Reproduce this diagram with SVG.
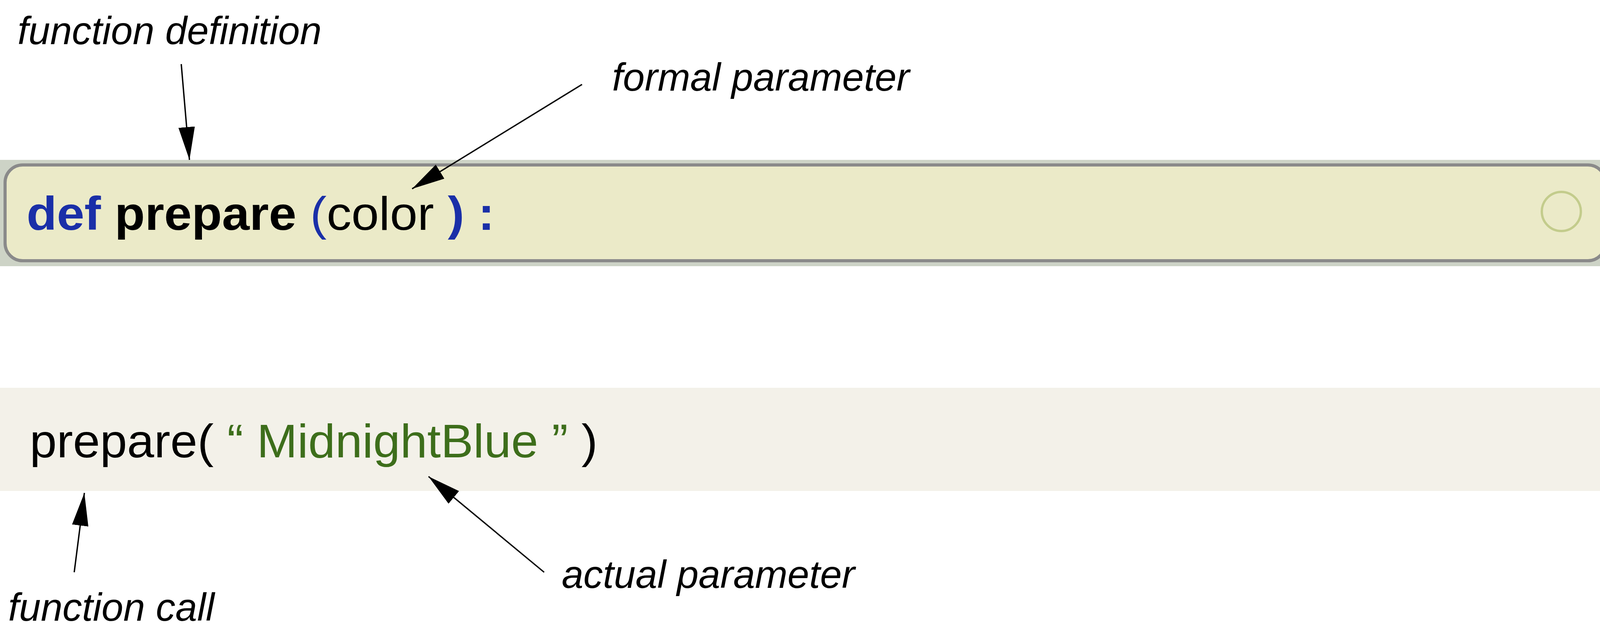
<svg xmlns="http://www.w3.org/2000/svg" width="4137" height="1645" viewBox="0 0 4137 1645">
<style>
.lbl{font-family:"Liberation Sans",Arial,sans-serif;font-style:italic;font-size:100px;fill:#000}
.code{font-family:"Liberation Sans",Arial,sans-serif;font-size:120px}
.conn line{stroke:#000;stroke-width:3.5;marker-end:url(#ah)}
</style>
<defs><marker id="ah" markerWidth="24" markerHeight="12" refX="24" refY="6" orient="auto" markerUnits="strokeWidth" viewBox="0 0 24 12"><path d="M0,0 L24,6 L0,12 z" fill="#000"/></marker></defs>
<rect width="4137" height="1645" fill="#fff"/>
<g id="def-block">
<rect x="0" y="409" width="4137" height="272" fill="#cdd3c6"/>
<rect x="13" y="422" width="4097" height="245" rx="45" fill="#ebeac8" stroke="#8a8a8a" stroke-width="8"/>
<text class="code" x="68" y="588" textLength="1198" lengthAdjust="spacingAndGlyphs"><tspan fill="#1a2fa8" font-weight="bold">def</tspan><tspan fill="#000" font-weight="bold"> prepare </tspan><tspan fill="#1a2fa8">(</tspan><tspan fill="#000">color </tspan><tspan fill="#1a2fa8" font-weight="bold">) :</tspan></text>
<circle cx="3997" cy="541" r="50" fill="none" stroke="#c3cc8c" stroke-width="6"/>
</g>
<g id="call-block">
<rect x="0" y="992" width="4137" height="264" fill="#f3f1e9"/>
<text class="code" x="76" y="1170" fill="#000" textLength="1454" lengthAdjust="spacingAndGlyphs">prepare( <tspan fill="#3d6e1b">“ MidnightBlue ”</tspan> )</text>
</g>
<g id="labels">
<text class="lbl" x="45" y="113">function definition</text>
<text class="lbl" x="1567" y="232">formal parameter</text>
<text class="lbl" x="1438" y="1504">actual parameter</text>
<text class="lbl" x="21" y="1588">function call</text>
</g>
<g class="conn" id="connectors">
<line x1="464" y1="164" x2="485" y2="409"/>
<line x1="1490" y1="216" x2="1055" y2="483"/>
<line x1="190" y1="1464" x2="216" y2="1261"/>
<line x1="1393" y1="1464" x2="1097" y2="1219"/>
</g>
</svg>
